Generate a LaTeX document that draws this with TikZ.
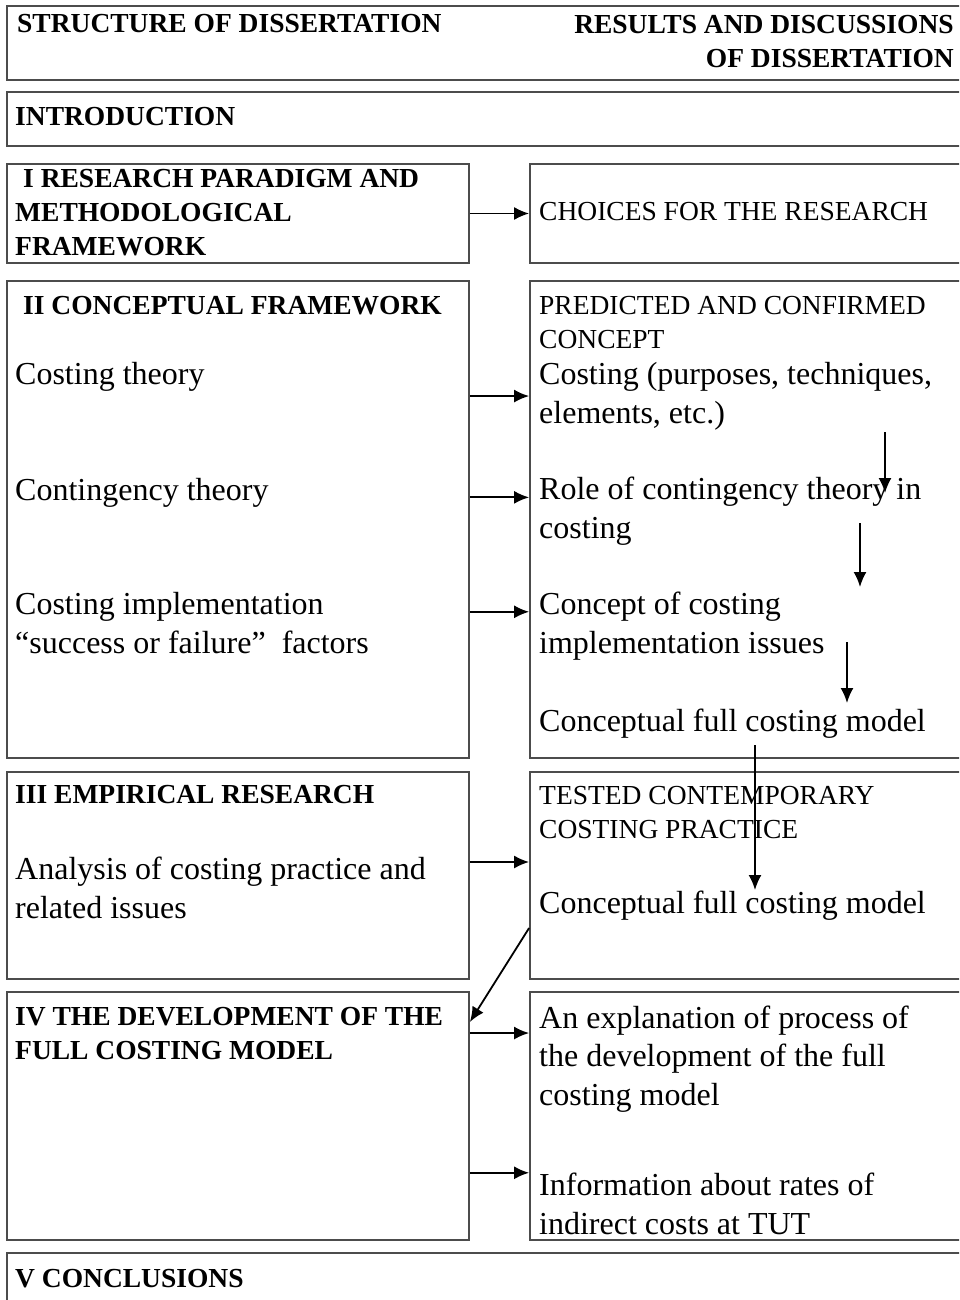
\documentclass[tikz,border=0pt]{standalone}
\usepackage{fontspec}
\setmainfont{Liberation Serif}
\usetikzlibrary{arrows.meta}
\tikzstyle{block} = [rectangle, draw=black!70, line width=1.8pt, inner sep=0pt]
\tikzstyle{head} = [font=\fontsize{27.5}{34}\selectfont\bfseries, align=left,
    inner sep=0pt, anchor=base west]
\tikzstyle{caps} = [font=\fontsize{27.5}{34}\selectfont, align=left,
    inner sep=0pt, anchor=base west]
\tikzstyle{body} = [font=\fontsize{32}{38.5}\selectfont, align=left,
    inner sep=0pt, anchor=base west]
\tikzstyle{line} = [draw, line width=1.8pt, -{Latex[length=15pt, width=13pt]}]

\begin{document}
\begin{tikzpicture}[x=1pt, y=-1pt, node distance=509.5pt]
  \useasboundingbox (0,0) rectangle (959,1300);
  \clip (0,0) rectangle (959,1300);
   % Place boxes
    \node [block, minimum width=958pt, minimum height=74pt] (top) at (486,43) {};
    \node [block, minimum width=958pt, minimum height=54pt] (intro) at (486,119) {};
    \node [block, minimum width=462pt, minimum height=99pt] (boxI) at (238,213.5) {};
    \node [block, right of=boxI, minimum width=435pt, minimum height=99pt] (resI) {};
    \node [block, minimum width=462pt, minimum height=477pt] (boxII) at (238,519.5) {};
    \node [block, right of=boxII, minimum width=435pt, minimum height=477pt] (resII) {};
    \node [block, minimum width=462pt, minimum height=207pt] (boxIII) at (238,875.5) {};
    \node [block, right of=boxIII, minimum width=435pt, minimum height=207pt] (resIII) {};
    \node [block, minimum width=462pt, minimum height=248pt] (boxIV) at (238,1116) {};
    \node [block, right of=boxIV, minimum width=435pt, minimum height=248pt] (resIV) {};
    \node [block, minimum width=958pt, minimum height=67pt] (concl) at (486,1286.5) {};
   % Place texts (multi-line texts sit on their last line)
    \node [head] (structL) at (17,33) {STRUCTURE OF DISSERTATION};
    \node [head, align=right, anchor=base east] (resultsR) at (954,68) {RESULTS AND DISCUSSIONS\\OF DISSERTATION};
    \node [head] (introL) at (15,126) {INTRODUCTION};
    \node [head] (paradL) at (15,255) {\hspace*{8pt}I RESEARCH PARADIGM AND\\METHODOLOGICAL\\FRAMEWORK};
    \node [caps] (choiceR) at (539,220) {CHOICES FOR THE RESEARCH};
    \node [head] (conceptL) at (15,314) {\hspace*{8pt}II CONCEPTUAL FRAMEWORK};
    \node [body] (costL) at (15,384) {Costing theory};
    \node [body] (contL) at (15,500) {Contingency theory};
    \node [body] (cimpL) at (15,653) {Costing implementation\\“success or failure”\ \ factors};
    \node [caps] (predR) at (539,348) {PREDICTED AND CONFIRMED\\CONCEPT};
    \node [body] (costR) at (539,423) {Costing (purposes, techniques,\\elements, etc.)};
    \node [body] (roleR) at (539,538) {Role of contingency theory in\\costing};
    \node [body] (cimpR) at (539,653) {Concept of costing\\implementation issues};
    \node [body] (modelR) at (539,731) {Conceptual full costing model};
    \node [head] (empL) at (15,803) {III EMPIRICAL RESEARCH};
    \node [body] (analL) at (15,918) {Analysis of costing practice and\\related issues};
    \node [caps] (testR) at (539,838) {TESTED CONTEMPORARY\\COSTING PRACTICE};
    \node [body] (testmodelR) at (539,913) {Conceptual full costing model};
    \node [head] (devL) at (15,1059) {IV THE DEVELOPMENT OF THE\\FULL COSTING MODEL};
    \node [body] (explR) at (539,1105) {An explanation of process of\\the development of the full\\costing model};
    \node [body] (infoR) at (539,1234) {Information about rates of\\indirect costs at TUT};
    \node [head] (conclL) at (15,1287) {V CONCLUSIONS};
   % Free ends of the arrows inside the boxes
    \coordinate (v1a) at (885,432);  \coordinate (v1b) at (885,493);
    \coordinate (v2a) at (860,523);  \coordinate (v2b) at (860,587);
    \coordinate (v3a) at (847,642);  \coordinate (v3b) at (847,703);
    \coordinate (v4a) at (755,745);  \coordinate (v4b) at (755,890);
   % Draw edges
    \path [line] (boxI) -- (resI);
    \path [line] (boxII.east |- costR.west) -- (resII.west |- costR.west);
    \path [line] ([yshift=-5pt]boxII.east |- contL.east) -- ([yshift=-5pt]resII.west |- contL.east);
    \path [line] ([yshift=11pt]boxII.east |- cimpL.east) -- ([yshift=11pt]resII.west |- cimpL.east);
    \path [line] ([yshift=13.5pt]boxIII.east) -- ([yshift=13.5pt]resIII.west);
    \path [line] (boxIV.east |- devL.east) -- (resIV.west |- devL.east);
    \path [line] (boxIV.east |- infoR.north) -- (resIV.west |- infoR.north);
    \path [line] ([yshift=-52.5pt]resIII.west) -- ([yshift=94pt]boxIV.east);
    \path [line] (v1a) -- (v1b);
    \path [line] (v2a) -- (v2b);
    \path [line] (v3a) -- (v3b);
    \path [line] (v4a) -- (v4b);
\end{tikzpicture}
\end{document}
